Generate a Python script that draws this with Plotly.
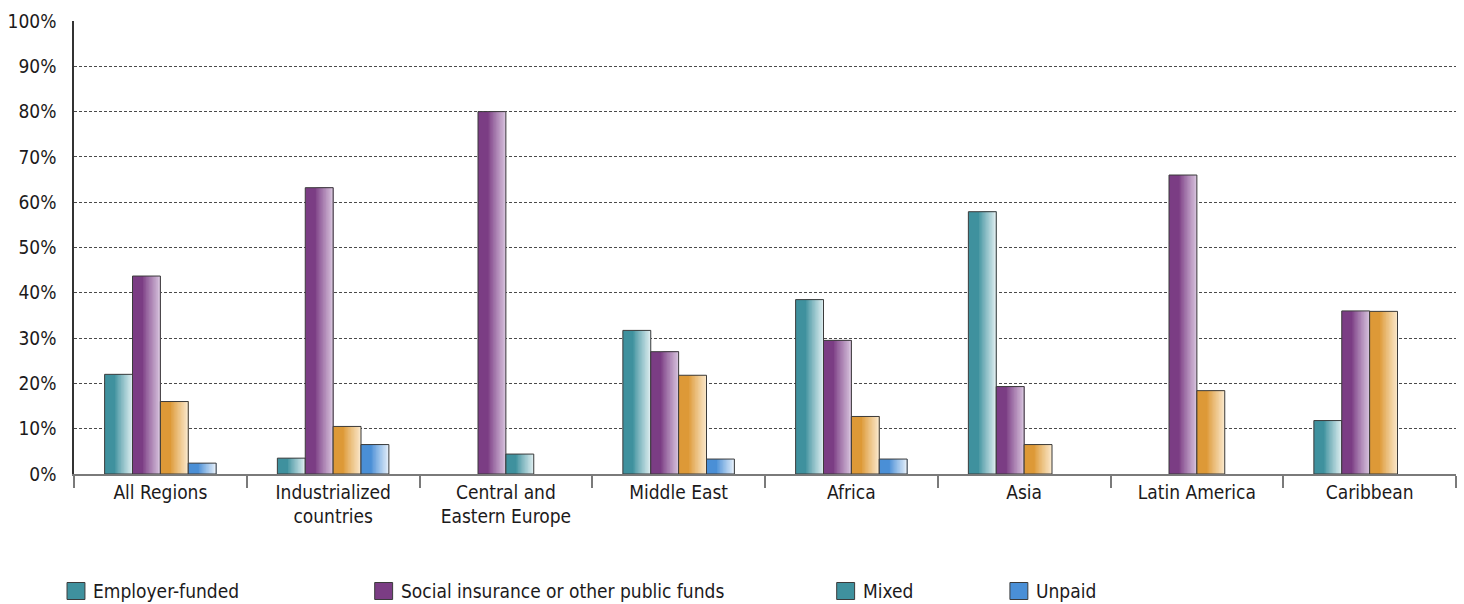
import plotly.graph_objects as go

# ---- data (percent of countries) ----
categories = [
    "All Regions",
    "Industrialized<br>countries",
    "Central and<br>Eastern Europe",
    "Middle East",
    "Africa",
    "Asia",
    "Latin America",
    "Caribbean",
]
series_names = ["Employer-funded", "Social insurance or other public funds", "Mixed", "Unpaid"]
employer_funded = [22.0, 3.5, None, 31.7, 38.5, 57.9, None, 11.8]
social_insurance = [43.7, 63.2, 80.0, 27.0, 29.5, 19.3, 66.0, 36.0]
mixed = [16.0, 10.5, 4.4, 21.8, 12.7, 6.5, 18.4, 35.9]
unpaid = [2.4, 6.5, None, 3.3, 3.3, None, None, None]
y_tick_values = list(range(0, 101, 10))
y_tick_labels = [f"{v}%" for v in y_tick_values]

# ---- styling ----
FONT = "DejaVu Sans Condensed, Liberation Sans Narrow, sans-serif"
TEXT = "#1c1a1b"
PALETTE = {
    "teal": ((63, 145, 158), (216, 234, 237)),
    "purple": ((123, 61, 132), (212, 190, 218)),
    "orange": ((221, 153, 55), (249, 229, 197)),
    "blue": ((74, 143, 214), (222, 235, 249)),
}
series_values = [employer_funded, social_insurance, mixed, unpaid]
series_colors = [
    ["teal"] * 8,
    ["purple"] * 8,
    ["orange", "orange", "teal", "orange", "orange", "orange", "orange", "orange"],
    ["blue"] * 8,
]
legend_colors = ["teal", "purple", "teal", "blue"]

W, H = 1464, 604
M_L, M_R, M_T, M_B = 68, 8, 21, 130
PLOT_W = W - M_L - M_R
PLOT_H = H - M_T - M_B

BAR_W = 28 / (PLOT_W / len(categories))  # bar width in category units


def rgb(c):
    return "rgb(%d,%d,%d)" % tuple(int(round(v)) for v in c)


def mix(a, b, t):
    return tuple(a[i] + (b[i] - a[i]) * t for i in range(3))


fig = go.Figure()

N_SLICES = 12
SOLID = 0.38
for k, (vals, cols) in enumerate(zip(series_values, series_colors)):
    left = (k - 2) * BAR_W
    # solid body of each bar
    fig.add_trace(go.Bar(
        x=categories, y=vals, name=series_names[k],
        offset=left, width=BAR_W,
        marker=dict(color=[rgb(PALETTE[c][0]) for c in cols], line=dict(width=0)),
        showlegend=False, hoverinfo="x+y+name",
    ))
    # horizontal shading toward the right edge
    for i in range(N_SLICES):
        f = SOLID + (1 - SOLID) * i / N_SLICES
        t = ((i + 1) / N_SLICES) ** 0.9
        fig.add_trace(go.Bar(
            x=categories, y=vals,
            offset=left + f * BAR_W, width=(1 - f) * BAR_W,
            marker=dict(color=[rgb(mix(PALETTE[c][0], PALETTE[c][1], t)) for c in cols],
                        line=dict(width=0)),
            showlegend=False, hoverinfo="skip",
        ))
    # outline
    fig.add_trace(go.Bar(
        x=categories, y=vals,
        offset=left, width=BAR_W,
        marker=dict(color="rgba(0,0,0,0)", line=dict(color="#3b3b3b", width=1)),
        showlegend=False, hoverinfo="skip",
    ))

# ---- legend drawn as swatches + labels below the plot ----
legend_x = [61, 370, 834, 1008]
legend_y = 591
shapes = []
annotations = []
for name, ck, lx in zip(series_names, legend_colors, legend_x):
    x0 = (lx - M_L) / PLOT_W
    x1 = (lx + 18 - M_L) / PLOT_W
    y0 = (H - M_B - (legend_y + 8.5)) / PLOT_H
    y1 = (H - M_B - (legend_y - 8.5)) / PLOT_H
    shapes.append(dict(type="rect", xref="paper", yref="paper", x0=x0, x1=x1, y0=y0, y1=y1,
                       fillcolor=rgb(PALETTE[ck][0]), line=dict(color="#3b3b3b", width=1)))
    annotations.append(dict(xref="paper", yref="paper", x=(lx + 24 - M_L) / PLOT_W,
                            y=(H - M_B - legend_y) / PLOT_H, text=name, showarrow=False,
                            xanchor="left", yanchor="middle",
                            font=dict(family=FONT, size=19, color=TEXT)))

fig.update_layout(
    width=W, height=H, autosize=False,
    margin=dict(l=M_L, r=M_R, t=M_T, b=M_B),
    paper_bgcolor="white", plot_bgcolor="white",
    barmode="overlay",
    font=dict(family=FONT, size=19, color=TEXT),
    shapes=shapes, annotations=annotations,
    showlegend=False,
)
fig.update_xaxes(
    type="category", range=[-0.5, len(categories) - 0.5],
    showline=True, linecolor="#7a7a7a", linewidth=1.5,
    ticks="outside", tickson="boundaries", ticklen=12, tickcolor="#7a7a7a", tickwidth=1.5,
    showgrid=False, tickfont=dict(family=FONT, size=19, color=TEXT),
)
fig.update_yaxes(
    range=[0, 100], tickvals=y_tick_values, ticktext=y_tick_labels,
    showline=True, linecolor="#333333", linewidth=1.5,
    ticks="", showgrid=True, gridcolor="#4a4a4a", gridwidth=1, griddash="3px,2px",
    zeroline=False, ticklabelstandoff=12,
    tickfont=dict(family=FONT, size=19, color=TEXT),
)

fig.write_html("out.html")
